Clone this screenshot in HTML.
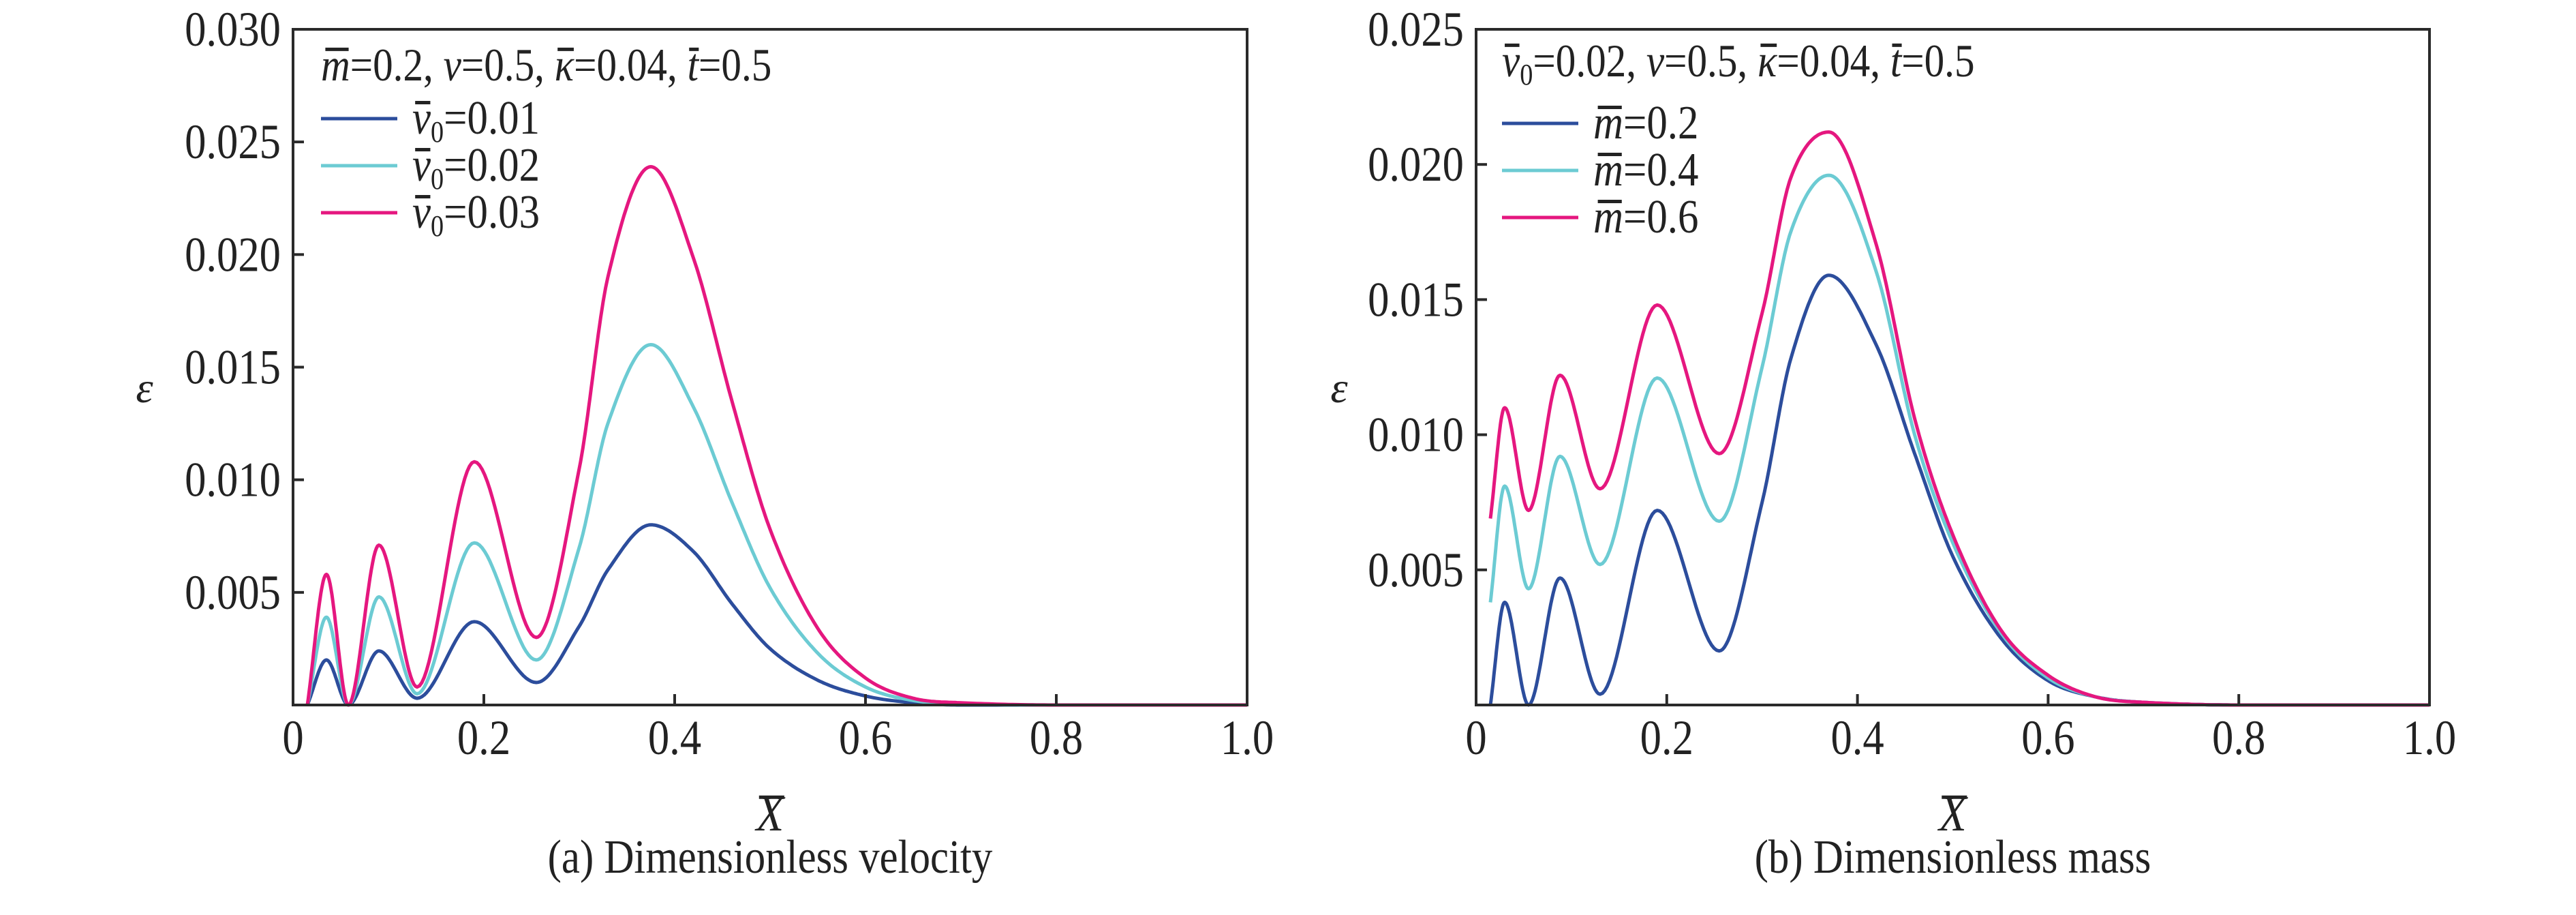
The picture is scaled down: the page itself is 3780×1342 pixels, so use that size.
<!DOCTYPE html>
<html><head><meta charset="utf-8"><style>
html,body{margin:0;padding:0;background:#fff;}
svg{display:block;font-family:"Liberation Serif",serif;}
</style></head><body>
<svg id="fig" width="3780" height="1342" viewBox="0 0 3780 1342"></svg>
<script>
// ---- data: panel (a) ----
const xsA = [0.015,0.035,0.058,0.09,0.13,0.19,0.255,0.3,0.33,0.375,0.42,0.46,0.5,0.55,0.6,0.65,0.7,0.8,1.0];
const a_v001 = [0,0.0020,0,0.0024,0.0003,0.0037,0.0010,0.0035,0.0060,0.0080,0.0068,0.0045,0.0025,0.0011,0.0004,0.0001,0,0,0];
const a_v002 = [0,0.0039,0,0.0048,0.0005,0.0072,0.0020,0.0070,0.0125,0.0160,0.0132,0.0090,0.0052,0.0023,0.0008,0.0002,0.00005,0,0];
const a_v003 = [0,0.0058,0,0.0071,0.0008,0.0108,0.0030,0.0105,0.0190,0.0239,0.0198,0.0135,0.0078,0.0034,0.0012,0.0003,0.0001,0,0];
const yTicksA = [0.005,0.010,0.015,0.020,0.025,0.030];
const yTickLabelsA = ["0.005","0.010","0.015","0.020","0.025","0.030"];
// ---- data: panel (b) ----
const xsB = [0.015,0.03,0.055,0.088,0.13,0.19,0.255,0.3,0.33,0.37,0.42,0.46,0.5,0.55,0.6,0.65,0.7,0.8,1.0];
const b_m02 = [0,0.0038,0,0.0047,0.0004,0.0072,0.0020,0.0075,0.0128,0.0159,0.0133,0.0093,0.0055,0.0025,0.0009,0.0003,0.0001,0,0];
const b_m04 = [0.0038,0.0081,0.0043,0.0092,0.0052,0.0121,0.0068,0.0125,0.0175,0.0196,0.0160,0.0100,0.0060,0.0027,0.0010,0.0003,0.0001,0,0];
const b_m06 = [0.0069,0.0110,0.0072,0.0122,0.0080,0.0148,0.0093,0.0145,0.0195,0.0212,0.0170,0.0106,0.0063,0.0028,0.0011,0.0003,0.0001,0,0];
const yTicksB = [0.005,0.010,0.015,0.020,0.025];
const yTickLabelsB = ["0.005","0.010","0.015","0.020","0.025"];
const xTicks = [0,0.2,0.4,0.6,0.8,1.0];
const xTickLabels = ["0","0.2","0.4","0.6","0.8","1.0"];

const NS="http://www.w3.org/2000/svg";
const svg=document.getElementById('fig');
const C={blue:"#2c4d9c",cyan:"#6ccbd3",mag:"#e5177f",ax:"#2a2a2a"};
function mk(tag,attrs,parent){const e=document.createElementNS(NS,tag);for(const k in attrs)e.setAttribute(k,attrs[k]);(parent||svg).appendChild(e);return e;}
function txt(g,x,y,size,anchor,sx){
  const w=mk('g',{transform:`translate(${x},${y}) scale(${sx||0.87},1)`},g);
  return mk('text',{x:0,y:0,'text-anchor':anchor||'start','font-size':size,fill:'#222'},w);
}
function overlines(t){
  t.querySelectorAll('tspan.ob').forEach(s=>{
    const b=s.getBBox();
    mk('line',{x1:b.x+b.width*0.15,x2:b.x+b.width*0.95,y1:b.y+b.height*0.2,y2:b.y+b.height*0.2,stroke:'#222','stroke-width':5},t.parentNode);
  });
}

function smooth(xs,ys){
  const n=xs.length,m=new Array(n);
  for(let i=0;i<n;i++){
    if(i==0){m[i]=(ys[1]-ys[0])/(xs[1]-xs[0]);continue;}
    if(i==n-1){m[i]=(ys[i]-ys[i-1])/(xs[i]-xs[i-1]);continue;}
    const a=ys[i]-ys[i-1],b=ys[i+1]-ys[i];
    m[i]=(a*b<=0)?0:(ys[i+1]-ys[i-1])/(xs[i+1]-xs[i-1]);
  }
  const pts=[];
  for(let i=0;i<n-1;i++){const h=xs[i+1]-xs[i];
    for(let s=0;s<24;s++){const t=s/24,t2=t*t,t3=t2*t;
      const y=(2*t3-3*t2+1)*ys[i]+(t3-2*t2+t)*h*m[i]+(-2*t3+3*t2)*ys[i+1]+(t3-t2)*h*m[i+1];
      pts.push([xs[i]+t*h,Math.max(0,y)]);}}
  pts.push([xs[n-1],ys[n-1]]);return pts;
}

function panel(o){
  const g=mk('g',{});
  
  
  const X=v=>o.x0+(o.x1-o.x0)*v, Y=v=>o.y1-(o.y1-o.y0)*v/o.ymax;
  o.series.forEach(s=>{
    const p=smooth(o.xs,s.vals).map((q,i)=>(i?'L':'M')+X(q[0]).toFixed(1)+' '+Y(q[1]).toFixed(1)).join(' ');
    const path=mk('path',{d:p,fill:'none',stroke:s.color,'stroke-width':5,'stroke-linejoin':'round'},g);
    
    
  });
  const box=mk('rect',{x:o.x0,y:o.y0,width:o.x1-o.x0,height:o.y1-o.y0,fill:'none',stroke:C.ax,'stroke-width':4},g);
  
  
  o.yTicks.forEach((v,i)=>{
    mk('line',{x1:o.x0,x2:o.x0+16,y1:Y(v),y2:Y(v),stroke:C.ax,'stroke-width':4},g);
    const t=txt(g,o.x0-18,Y(v)+24,72,'end');
    t.textContent=o.yLabels[i];
    
    
  });
  xTicks.forEach((v,i)=>{
    if(v>0&&v<1)mk('line',{x1:X(v),x2:X(v),y1:o.y1,y2:o.y1-16,stroke:C.ax,'stroke-width':4},g);
    const t=txt(g,X(v),1106,72,'middle');
    t.textContent=xTickLabels[i];
    
    
  });
  const yt=txt(g,o.ylx,590,64,'middle',1);
  yt.setAttribute('font-style','italic');
  yt.textContent='ε';
  
  
  const xt=txt(g,(o.x0+o.x1)/2,1218,74,'middle',0.9);
  xt.setAttribute('font-style','italic');
  xt.innerHTML='<tspan class="ob">X</tspan>';
  
  
  overlines(xt);
  const cap=txt(g,(o.x0+o.x1)/2,1280,70,'middle');
  cap.textContent=o.caption;
  
  
  const hd=txt(g,o.lx,o.hy,68,'start');
  hd.innerHTML=o.header;
  
  
  overlines(hd);
  o.series.forEach((s,i)=>{
    const yy=o.ly0+i*o.ldy;
    const ln=mk('line',{x1:o.lx,x2:o.lx+112,y1:yy,y2:yy,stroke:s.color,'stroke-width':5},g);
    
    
    const t=txt(g,o.lx+134,yy+22,70,'start');
    t.innerHTML=s.label;
    
    
    overlines(t);
  });
}
const v0='<tspan class="ob" font-style="italic">v</tspan><tspan font-size="44" dy="12">0</tspan><tspan dy="-12">';
const mb='<tspan class="ob" font-style="italic">m</tspan>';
panel({name:'panel-a-velocity',x0:430,x1:1830,y0:43,y1:1034,ymax:0.030,xs:xsA,yTicks:yTicksA,yLabels:yTickLabelsA,ylx:212,
  caption:'(a) Dimensionless velocity',lx:471,hy:118,ly0:174,ldy:69,
  header:mb+'=0.2, <tspan font-style="italic">v</tspan>=0.5, <tspan class="ob" font-style="italic">κ</tspan>=0.04, <tspan class="ob" font-style="italic">t</tspan>=0.5',
  series:[{id:'series-v0-0.01',vals:a_v001,color:C.blue,label:v0+'=0.01</tspan>'},
          {id:'series-v0-0.02',vals:a_v002,color:C.cyan,label:v0+'=0.02</tspan>'},
          {id:'series-v0-0.03',vals:a_v003,color:C.mag,label:v0+'=0.03</tspan>'}]});
panel({name:'panel-b-mass',x0:2166,x1:3565,y0:43,y1:1034,ymax:0.025,xs:xsB,yTicks:yTicksB,yLabels:yTickLabelsB,ylx:1965,
  caption:'(b) Dimensionless mass',lx:2204,hy:112,ly0:181,ldy:69,
  header:v0+'=0.02, </tspan><tspan font-style="italic">v</tspan>=0.5, <tspan class="ob" font-style="italic">κ</tspan>=0.04, <tspan class="ob" font-style="italic">t</tspan>=0.5',
  series:[{id:'series-m-0.2',vals:b_m02,color:C.blue,label:mb+'=0.2'},
          {id:'series-m-0.4',vals:b_m04,color:C.cyan,label:mb+'=0.4'},
          {id:'series-m-0.6',vals:b_m06,color:C.mag,label:mb+'=0.6'}]});
</script>
</body></html>
